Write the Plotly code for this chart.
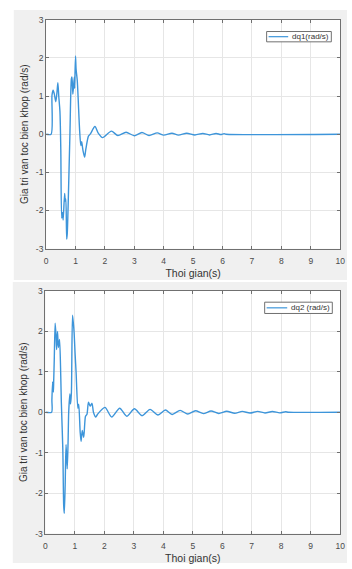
import plotly.graph_objects as go

# ---- data ----
t1 = [0, 0.17, 0.2, 0.24, 0.28, 0.33, 0.37, 0.4, 0.43, 0.47, 0.5, 0.53, 0.56, 0.58, 0.63, 0.65, 0.67, 0.7, 0.72,
      0.75, 0.81, 0.86, 0.88, 0.91, 0.96, 0.97, 1.0, 1.02, 1.06, 1.14, 1.18, 1.21, 1.23, 1.26, 1.31, 1.35, 1.44,
      1.5, 1.66, 1.78, 1.92, 2.22, 2.44, 2.72, 3.0, 3.26, 3.5, 3.78, 4.0, 4.28, 4.5, 4.78, 5.06, 5.33, 5.56,
      5.78, 5.94, 6.05, 6.12, 10]
dq1 = [0, 0, 1.02, 1.15, 1.05, 0.85, 1.1, 1.35, 1.0, 0.6, -0.4, -2.2, -2.05, -2.25, -1.55, -1.75, -1.7, -2.75, -2.6,
       -1.85, 0.0, 1.45, 1.5, 1.05, 1.5, 1.2, 2.05, 1.7, 1.4, 0.1, -0.3, -0.2, -0.3, -0.45, -0.6, -0.4, -0.05,
       0.0, 0.2, 0.02, -0.09, 0.08, -0.035, 0.05, -0.04, 0.045, -0.035, 0.035, -0.025, 0.025, -0.025, 0.025, -0.02,
       0.02, -0.02, 0.02, -0.01, 0.015, 0, 0]

t2 = [0, 0.21, 0.22, 0.245, 0.27, 0.28, 0.3, 0.33, 0.36, 0.38, 0.41, 0.44, 0.48, 0.52, 0.54, 0.59, 0.62, 0.64,
      0.67, 0.7, 0.74, 0.77, 0.79, 0.83, 0.85, 0.88, 0.92, 0.97, 1.01, 1.04, 1.1, 1.13, 1.18, 1.21, 1.25, 1.3,
      1.36, 1.41, 1.46, 1.52, 1.58, 1.63, 1.71, 1.77, 2.02, 2.25, 2.52, 2.76, 3.02, 3.28, 3.55, 3.82, 4.07, 4.3,
      4.57, 4.83, 5.09, 5.36, 5.62, 5.88, 6.15, 6.42, 6.68, 6.94, 7.2, 7.45, 7.7, 7.95, 8.15, 8.25, 10]
dq2 = [0, 0, 0.3, 0.75, 0.5, 0.75, 1.3, 2.2, 1.9, 1.55, 2.0, 1.6, 1.8, 0.9, 0.25, -0.9, -2.3, -2.5,
       -1.8, -0.8, -1.4, -0.7, 0.0, 0.45, 0.2, 0.45, 2.4, 2.0, 1.4, 1.0, 0.1, 0.2, -0.5, -0.72, -0.45, -0.62,
       -0.1, -0.05, 0.25, 0.15, 0.22, 0.0, -0.12, -0.05, 0.12, -0.12, 0.1, -0.1, 0.085, -0.085, 0.07, -0.07, 0.055, -0.055,
       0.045, -0.045, 0.035, -0.035, 0.03, -0.03, 0.025, -0.025, 0.02, -0.02, 0.02, -0.018, 0.018, -0.015, 0.012, 0, 0]

x_ticks = [0, 1, 2, 3, 4, 5, 6, 7, 8, 9, 10]
x_ticktext = ["0", "1", "2", "3", "4", "5", "6", "7", "8", "9", "10"]
y_ticks = [-3, -2, -1, 0, 1, 2, 3]
y_ticktext = ["-3", "-2", "-1", "0", "1", "2", "3"]

names = ["dq1(rad/s)", "dq2 (rad/s)"]
x_title = "Thoi gian(s)"
y_title = "Gia tri van toc bien khop (rad/s)"

# ---- figure ----
W, H = 352, 569
FONT = "Liberation Sans, Arial, sans-serif"
LINE = "#3d95da"
AX = "#707070"

fig = go.Figure()
fig.add_trace(go.Scatter(x=t1, y=dq1, mode="lines", name=names[0], showlegend=False,
                         line=dict(color=LINE, width=1.4, shape="spline", smoothing=0.7),
                         xaxis="x", yaxis="y"))
fig.add_trace(go.Scatter(x=t2, y=dq2, mode="lines", name=names[1], showlegend=False,
                         line=dict(color=LINE, width=1.4, shape="spline", smoothing=0.7),
                         xaxis="x2", yaxis="y2"))

def px(v):
    return v / W

def py(v):
    return 1 - v / H

common_x = dict(range=[0, 10], tickvals=x_ticks, ticktext=x_ticktext, showgrid=True, gridcolor="#e6e6e6",
                gridwidth=1, zeroline=False, showline=True, linecolor=AX, linewidth=1, mirror="ticks",
                ticks="inside", ticklen=3, tickcolor=AX, ticklabelstandoff=4,
                tickfont=dict(family=FONT, size=8.5, color="#4a4a4a"),
                title=dict(text=x_title, font=dict(family=FONT, size=10.5, color="#333333"), standoff=4))
common_y = dict(range=[-3, 3], tickvals=y_ticks, ticktext=y_ticktext, showgrid=True, gridcolor="#e6e6e6",
                gridwidth=1, zeroline=False, showline=True, linecolor=AX, linewidth=1, mirror="ticks",
                ticks="inside", ticklen=3, tickcolor=AX,
                tickfont=dict(family=FONT, size=8.5, color="#4a4a4a"),
                title=dict(text=y_title, font=dict(family=FONT, size=10, color="#333333"), standoff=5))

# legend boxes (drawn as shapes + text, MATLAB style)
legends = [
    dict(box=(270, 336, 27, 37.5), line=(272, 292), text_x=294, name=names[0]),
    dict(box=(268, 337, 302.5, 314), line=(270, 291), text_x=293, name=names[1]),
]

shapes = [
    dict(type="rect", xref="paper", yref="paper", x0=px(12), x1=1, y0=py(280), y1=py(5),
         fillcolor="#f0f0f0", line=dict(width=0), layer="below"),
    dict(type="rect", xref="paper", yref="paper", x0=px(11), x1=1, y0=py(568), y1=py(282),
         fillcolor="#f0f0f0", line=dict(width=0), layer="below"),
    dict(type="rect", xref="x domain", yref="y domain", x0=0, x1=1, y0=0, y1=1,
         fillcolor="white", line=dict(width=0), layer="below"),
    dict(type="rect", xref="x2 domain", yref="y2 domain", x0=0, x1=1, y0=0, y1=1,
         fillcolor="white", line=dict(width=0), layer="below"),
]
annotations = []
for lg in legends:
    bx0, bx1, by0, by1 = lg["box"]
    ym = (by0 + by1) / 2
    shapes.append(dict(type="rect", xref="paper", yref="paper", x0=px(bx0), x1=px(bx1), y0=py(by1), y1=py(by0),
                       fillcolor="white", line=dict(color=AX, width=1), layer="above"))
    shapes.append(dict(type="line", xref="paper", yref="paper", x0=px(lg["line"][0]), x1=px(lg["line"][1]),
                       y0=py(ym), y1=py(ym), line=dict(color=LINE, width=1.2), layer="above"))
    annotations.append(dict(xref="paper", yref="paper", x=px(lg["text_x"]), y=py(ym), xanchor="left",
                            yanchor="middle", text=lg["name"], showarrow=False,
                            font=dict(family=FONT, size=8, color="#333333")))

fig.update_layout(
    width=W, height=H, margin=dict(l=0, r=0, t=0, b=0),
    paper_bgcolor="white", plot_bgcolor="white", showlegend=False,
    xaxis=dict(common_x, domain=[px(45), px(345)], anchor="y"),
    yaxis=dict(common_y, domain=[py(248), py(15)], anchor="x"),
    xaxis2=dict(common_x, domain=[px(44.3), px(345)], anchor="y2"),
    yaxis2=dict(common_y, domain=[py(538), py(291)], anchor="x2"),
    shapes=shapes,
    annotations=annotations,
)

fig.write_html("out.html")
